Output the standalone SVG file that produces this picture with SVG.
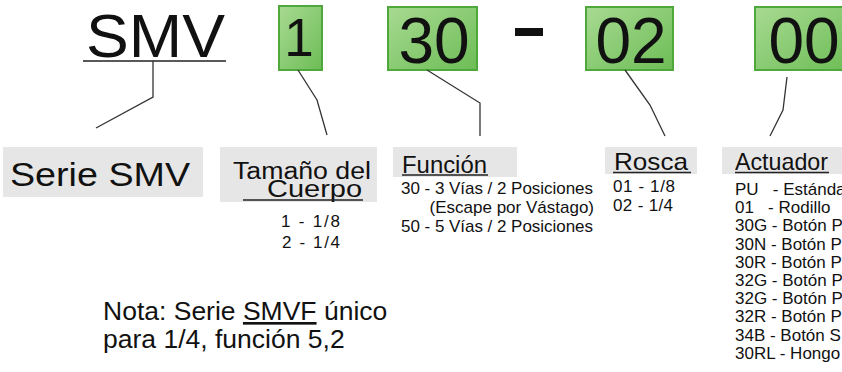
<svg xmlns="http://www.w3.org/2000/svg" width="842" height="372" viewBox="0 0 842 372">
<defs>
<linearGradient id="g" x1="0" y1="0" x2="1" y2="1">
<stop offset="0" stop-color="#a8da92"/>
<stop offset="1" stop-color="#6dbd56"/>
</linearGradient>
</defs>
<style>
text{font-family:"Liberation Sans",Arial,sans-serif;fill:#111}
.code{font-size:64px;text-anchor:middle}
.gbox{fill:url(#g);stroke:#4fa83c;stroke-width:2}
.lbl{fill:#e6e6e6}
.ln{fill:none;stroke:#333;stroke-width:1.3}
.ul{stroke:#222;stroke-width:1.5}
.hd{font-size:24px}
.it{font-size:17px}
.nota{font-size:26.5px}
</style>
<rect width="842" height="372" fill="#fff"/>
<g id="smv">
<text x="86" y="57" font-size="61" textLength="139" lengthAdjust="spacingAndGlyphs">SMV</text>
<line class="ul" x1="83" y1="61" x2="226" y2="61" stroke-width="2.5"/>
</g>
<g id="code1">
<rect class="gbox" x="279" y="6" width="43" height="64"/>
<text class="code" x="299" y="56" style="font-size:53px">1</text>
</g>
<g id="code30">
<rect class="gbox" x="388" y="7" width="89" height="63"/>
<text class="code" x="434" y="63">30</text>
</g>
<g id="dash">
<rect x="515" y="28" width="28" height="8" fill="#111"/>
</g>
<g id="code02">
<rect class="gbox" x="586" y="7" width="87" height="63"/>
<text class="code" x="631" y="63">02</text>
</g>
<g id="code00">
<rect class="gbox" x="755" y="7" width="95" height="63"/>
<text class="code" x="804" y="63">00</text>
</g>
<g id="connectors">
<polyline class="ln" points="153,61 153,97 96,128"/>
<polyline class="ln" points="298,70 317,100 327,135"/>
<polyline class="ln" points="427,70 480,103 480,136"/>
<polyline class="ln" points="625,70 650,105 665,136"/>
<polyline class="ln" points="787,77 783,110 770,136"/>
</g>
<g id="serie">
<rect class="lbl" x="3" y="147" width="200" height="50"/>
<text x="10" y="186" font-size="33" textLength="180" lengthAdjust="spacingAndGlyphs">Serie SMV</text>
</g>
<g id="tamano">
<rect class="lbl" x="220" y="147" width="157" height="55"/>
<text x="233" y="179" font-size="23" textLength="138" lengthAdjust="spacingAndGlyphs">Tamaño del</text>
<text x="267" y="197" font-size="23" textLength="95" lengthAdjust="spacingAndGlyphs">Cuerpo</text>
<line class="ul" x1="243" y1="200" x2="363" y2="200"/>
<text class="it" x="281" y="227" textLength="59">1 - 1/8</text>
<text class="it" x="282" y="248" textLength="58">2 - 1/4</text>
</g>
<g id="funcion">
<rect class="lbl" x="393" y="147" width="124" height="30"/>
<text x="402" y="173" font-size="23" textLength="85" lengthAdjust="spacingAndGlyphs">Función</text>
<line class="ul" x1="402" y1="175" x2="488" y2="175"/>
<text class="it" x="401" y="194" textLength="192">30 - 3 Vías / 2 Posiciones</text>
<text class="it" x="594" y="213" text-anchor="end">(Escape por Vástago)</text>
<text class="it" x="401" y="232" textLength="192">50 - 5 Vías / 2 Posiciones</text>
</g>
<g id="rosca">
<rect class="lbl" x="605" y="147" width="92" height="27"/>
<text class="hd" x="614" y="170" textLength="74" lengthAdjust="spacingAndGlyphs">Rosca</text>
<line class="ul" x1="613" y1="172.5" x2="691" y2="172.5"/>
<text class="it" x="613" y="192" textLength="62">01 - 1/8</text>
<text class="it" x="613" y="211" textLength="60">02 - 1/4</text>
</g>
<g id="actuador">
<rect class="lbl" x="722" y="147" width="120" height="27"/>
<text class="hd" x="735" y="170" textLength="93" lengthAdjust="spacingAndGlyphs">Actuador</text>
<line class="ul" x1="735" y1="172.5" x2="829" y2="172.5"/>
<text class="it" x="735" y="195" xml:space="preserve">PU   - Estánda</text>
<text class="it" x="735" y="213" xml:space="preserve">01   - Rodillo</text>
<text class="it" x="735" y="231">30G - Botón P</text>
<text class="it" x="735" y="250">30N - Botón P</text>
<text class="it" x="735" y="268">30R - Botón P</text>
<text class="it" x="735" y="286">32G - Botón P</text>
<text class="it" x="735" y="304">32G - Botón P</text>
<text class="it" x="735" y="322">32R - Botón P</text>
<text class="it" x="735" y="341">34B - Botón S</text>
<text class="it" x="735" y="359">30RL - Hongo</text>
</g>
<g id="nota">
<text class="nota" x="103" y="320">Nota: Serie <tspan text-decoration="underline">SMVF</tspan> único</text>
<text class="nota" x="103" y="348">para 1/4, función 5,2</text>
</g>
</svg>
